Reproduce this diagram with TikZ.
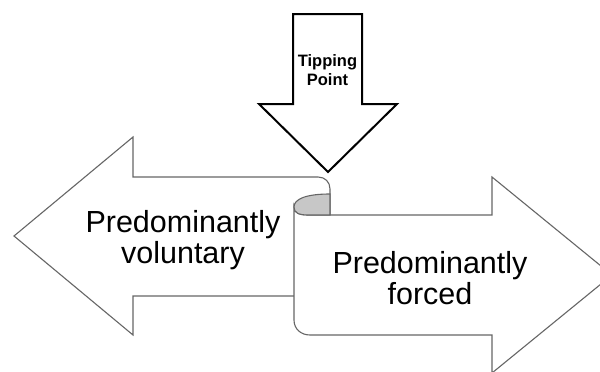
\documentclass[tikz,border=0pt]{standalone}
\usepackage{fontspec}
\setmainfont{Liberation Sans}
\begin{document}
\begin{tikzpicture}[x=1pt,y=-1pt,
  thinline/.style={draw=black!60, line width=1.1pt, line join=miter},
  bigtext/.style={align=center, font=\fontsize{30.5}{31.5}\selectfont, inner sep=0pt},
  smalltext/.style={align=center, font=\fontsize{16.5}{18.5}\selectfont\bfseries, inner sep=0pt}]
\useasboundingbox (0,0) rectangle (600,372);
\clip (0,0) rectangle (600,372);
\fill[white] (0,0) rectangle (600,372);
% left arrow (back of scroll)
\path[thinline, fill=white] (294,296) -- (133,296) -- (133,335) -- (14,236) -- (133,137) -- (133,177)
  -- (318,177) .. controls (325,177) and (330,182) .. (330,189) -- (330,215);
% right arrow with scroll front
\path[thinline, fill=white] (308,215) -- (492,215) -- (492,177) -- (612,275) -- (492,373) -- (492,335)
  -- (310,335) .. controls (301,335) and (294,329) .. (294,320) -- (294,207)
  .. controls (294,213) and (299,215) .. (308,215);
% curl
\path[thinline, fill=black!22] (330,194) .. controls (306,194) and (294,199) .. (294,207)
  .. controls (294,213) and (299,215) .. (308,215) -- (330,215) -- cycle;
% down arrow
\path[draw=black, line width=2pt, fill=white, line join=miter] (293,14) -- (362,14) -- (362,104) -- (397,104)
  -- (328,172) -- (259,104) -- (293,104) -- cycle;
\node[smalltext] (tp) at (327.5,70) {Tipping\\Point};
\node[bigtext] (vol) at (183,240) {Predominantly\\voluntary};
\node[bigtext] (forced) at (430,278) {Predominantly\\forced};
\end{tikzpicture}
\end{document}
